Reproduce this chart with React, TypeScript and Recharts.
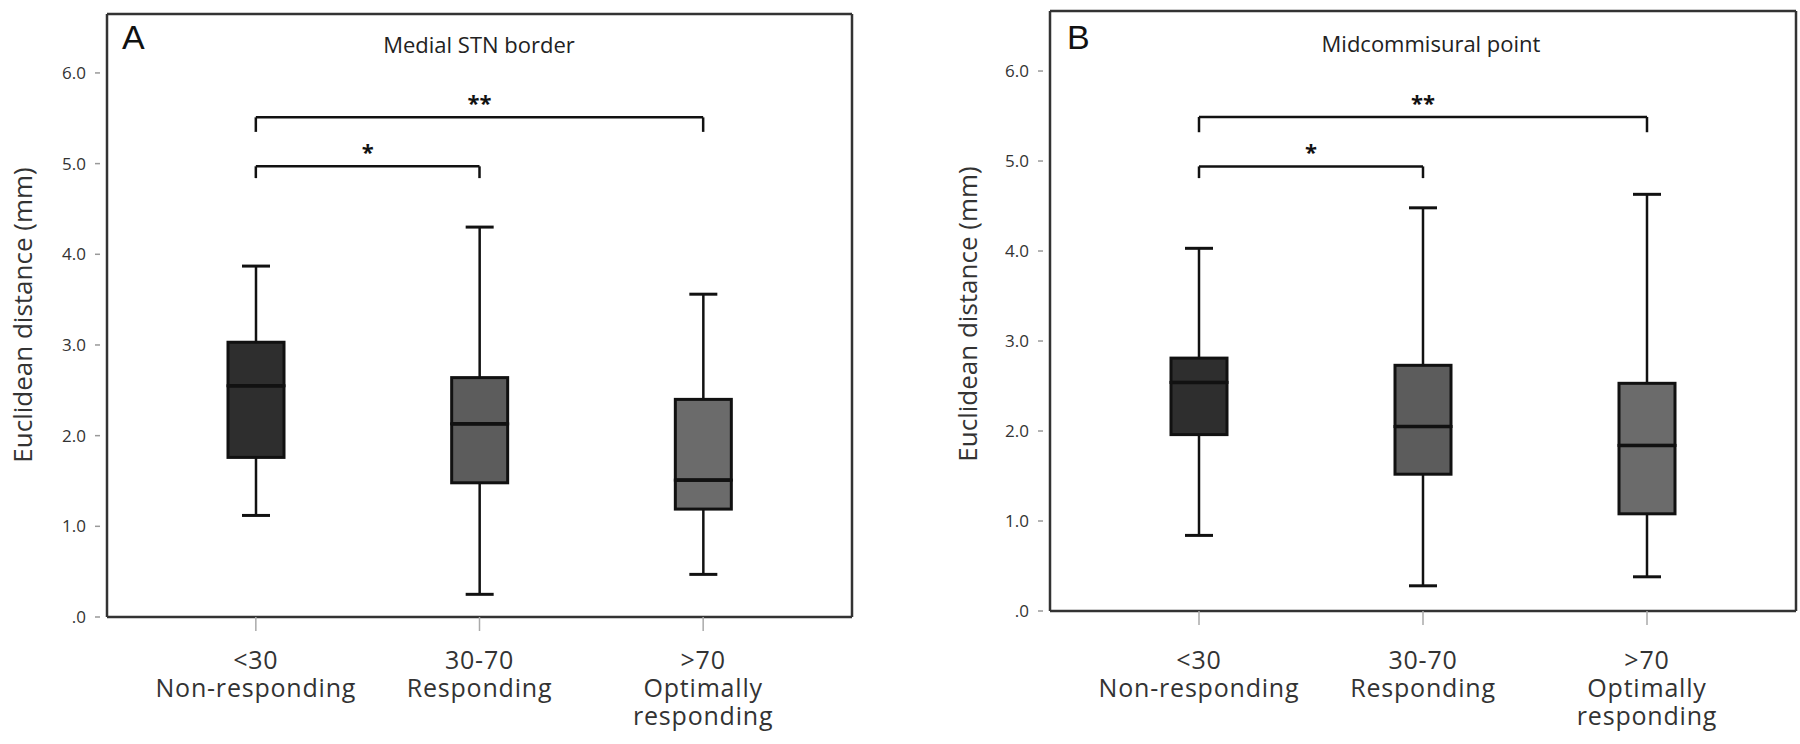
import React from 'react';
import { ComposedChart, Bar, XAxis, YAxis, ReferenceLine } from 'recharts';

// ---------- data ----------
const categories = ['<30', '30-70', '>70'];
const categoryLines = [
  ['<30', 'Non-responding'],
  ['30-70', 'Responding'],
  ['>70', 'Optimally', 'responding'],
];
const yTicks = [0, 1, 2, 3, 4, 5, 6];

// Panel A: Medial STN border
const medialMin = [1.12, 0.25, 0.47];
const medialQ1 = [1.76, 1.48, 1.19];
const medialMedian = [2.55, 2.13, 1.51];
const medialQ3 = [3.03, 2.64, 2.40];
const medialMax = [3.87, 4.30, 3.56];

// Panel B: Midcommisural point
const midMin = [0.84, 0.28, 0.38];
const midQ1 = [1.96, 1.52, 1.08];
const midMedian = [2.54, 2.05, 1.84];
const midQ3 = [2.81, 2.73, 2.53];
const midMax = [4.03, 4.48, 4.63];

const boxFills = ['#2e2e2e', '#5c5c5c', '#6b6b6b'];

type Bracket = { from: string; to: string; level: number; tip: number; mark: string };
const medialBrackets: Bracket[] = [
  { from: '<30', to: '>70', level: 5.51, tip: 5.35, mark: '**' },
  { from: '<30', to: '30-70', level: 4.97, tip: 4.84, mark: '*' },
];
const midBrackets: Bracket[] = [
  { from: '<30', to: '>70', level: 5.49, tip: 5.32, mark: '**' },
  { from: '<30', to: '30-70', level: 4.94, tip: 4.81, mark: '*' },
];

function buildRows(min: number[], q1: number[], med: number[], q3: number[], max: number[]) {
  return categories.map((c, i) => ({
    category: c,
    base: min[i],
    lowWhisker: q1[i] - min[i],
    lowBox: med[i] - q1[i],
    highBox: q3[i] - med[i],
    highWhisker: max[i] - q3[i],
  }));
}

const medialRows = buildRows(medialMin, medialQ1, medialMedian, medialQ3, medialMax);
const midRows = buildRows(midMin, midQ1, midMedian, midQ3, midMax);

// ---------- styles ----------
const FONT = '"Open Sans", "DejaVu Sans", sans-serif';
const INK = '#111';
const FRAME = '#333';
const CAP = 28;

const BaseShape = () => <g />;
const LowWhiskerShape = (p: any) => {
  const cx = p.x + p.width / 2;
  const yb = p.y + p.height;
  return (
    <g>
      <line x1={cx} x2={cx} y1={p.y} y2={yb} stroke={INK} strokeWidth={2.5} />
      <line x1={cx - CAP / 2} x2={cx + CAP / 2} y1={yb} y2={yb} stroke={INK} strokeWidth={3} />
    </g>
  );
};
const LowBoxShape = (p: any) => (
  <rect x={p.x} y={p.y} width={p.width} height={p.height} fill={boxFills[p.index]} stroke={INK} strokeWidth={3} />
);
const HighBoxShape = (p: any) => (
  <g>
    <rect x={p.x} y={p.y} width={p.width} height={p.height} fill={boxFills[p.index]} stroke={INK} strokeWidth={3} />
    <line x1={p.x} x2={p.x + p.width} y1={p.y + p.height} y2={p.y + p.height} stroke={INK} strokeWidth={3.5} />
  </g>
);
const HighWhiskerShape = (p: any) => {
  const cx = p.x + p.width / 2;
  return (
    <g>
      <line x1={cx} x2={cx} y1={p.y} y2={p.y + p.height} stroke={INK} strokeWidth={2.5} />
      <line x1={cx - CAP / 2} x2={cx + CAP / 2} y1={p.y} y2={p.y} stroke={INK} strokeWidth={3} />
    </g>
  );
};

const makeCategoryTick = (firstDy: number) => (props: any) => {
  const { x, y, payload } = props;
  const lines = categoryLines[categories.indexOf(payload.value)] || [payload.value];
  return (
    <text x={x} y={y} textAnchor="middle" fill="#333" fontSize={25} letterSpacing={0.8} fontFamily={FONT}>
      {lines.map((l, i) => (
        <tspan key={i} x={x} dy={i === 0 ? firstDy : 28}>
          {l}
        </tspan>
      ))}
    </text>
  );
};

const yFmt = (v: number) => (v === 0 ? '.0' : v.toFixed(1));

type PanelProps = {
  rows: any[];
  brackets: Bracket[];
  width: number;
  top: number;
  right: number;
  yAxisWidth: number;
  xAxisHeight: number;
  domainMax: number;
  labelDy: number;
};

function Panel({ rows, brackets, width, top, right, yAxisWidth, xAxisHeight, domainMax, labelDy }: PanelProps) {
  const frame = { stroke: FRAME, strokeWidth: 2.5 };
  return (
    <ComposedChart
      width={width}
      height={744}
      data={rows}
      margin={{ top: top - 1, right: right - 1, left: 0, bottom: 0 }}
      barSize={56}
    >
      <XAxis
        dataKey="category"
        height={xAxisHeight}
        padding={{ left: 37, right: 37 }}
        axisLine={frame}
        tickLine={{ stroke: '#aaa', strokeWidth: 1.5 }}
        tickSize={14}
        tickMargin={0}
        interval={0}
        tick={makeCategoryTick(labelDy)}
      />
      <XAxis
        xAxisId="top"
        dataKey="category"
        orientation="top"
        height={1}
        padding={{ left: 37, right: 37 }}
        axisLine={frame}
        tick={false}
        tickLine={false}
      />
      <YAxis
        type="number"
        domain={[0, domainMax]}
        ticks={yTicks}
        width={yAxisWidth}
        axisLine={frame}
        tickLine={{ stroke: '#999', strokeWidth: 1.5, strokeDasharray: '5 7' }}
        tickSize={12}
        tickMargin={9}
        tickFormatter={yFmt}
        tick={{ fill: '#333', fontSize: 17, fontFamily: FONT }}
      />
      <YAxis
        yAxisId="right"
        orientation="right"
        type="number"
        domain={[0, domainMax]}
        width={1}
        axisLine={frame}
        tick={false}
        tickLine={false}
      />
      <Bar dataKey="base" stackId="box" shape={BaseShape} isAnimationActive={false} />
      <Bar dataKey="lowWhisker" stackId="box" shape={LowWhiskerShape} isAnimationActive={false} />
      <Bar dataKey="lowBox" stackId="box" shape={LowBoxShape} isAnimationActive={false} />
      <Bar dataKey="highBox" stackId="box" shape={HighBoxShape} isAnimationActive={false} />
      <Bar dataKey="highWhisker" stackId="box" shape={HighWhiskerShape} isAnimationActive={false} />
      {brackets.map((b, i) => (
        <ReferenceLine
          key={'h' + i}
          segment={[
            { x: b.from, y: b.level },
            { x: b.to, y: b.level },
          ]}
          stroke={INK}
          strokeWidth={2.5}
          label={{ value: b.mark, position: 'top', offset: 6, fill: '#111', fontSize: 22, fontWeight: 700, fontFamily: FONT }}
        />
      ))}
      {brackets.map((b, i) => (
        <ReferenceLine
          key={'l' + i}
          segment={[
            { x: b.from, y: b.level },
            { x: b.from, y: b.tip },
          ]}
          stroke={INK}
          strokeWidth={2.5}
        />
      ))}
      {brackets.map((b, i) => (
        <ReferenceLine
          key={'r' + i}
          segment={[
            { x: b.to, y: b.level },
            { x: b.to, y: b.tip },
          ]}
          stroke={INK}
          strokeWidth={2.5}
        />
      ))}
    </ComposedChart>
  );
}

export default function App() {
  return (
    <div style={{ position: 'absolute', left: 0, top: 0, width: 1800, height: 744, background: '#fff', overflow: 'hidden' }}>
      <div style={{ position: 'absolute', left: 0, top: 0 }}>
        <Panel
          rows={medialRows}
          brackets={medialBrackets}
          width={870}
          top={14}
          right={18}
          yAxisWidth={107}
          xAxisHeight={127}
          domainMax={6.65}
          labelDy={38}
        />
      </div>
      <div style={{ position: 'absolute', left: 900, top: 0 }}>
        <Panel
          rows={midRows}
          brackets={midBrackets}
          width={900}
          top={11}
          right={4}
          yAxisWidth={150}
          xAxisHeight={133}
          domainMax={6.667}
          labelDy={44}
        />
      </div>
      <svg width={1800} height={744} style={{ position: 'absolute', left: 0, top: 0, pointerEvents: 'none' }}>
        <text x={122} y={49} fontSize={34} fontFamily='"Liberation Sans", Arial, sans-serif' fill="#111">A</text>
        <text x={1067} y={49} fontSize={34} fontFamily='"Liberation Sans", Arial, sans-serif' fill="#111">B</text>
        <text x={479} y={53} textAnchor="middle" fontSize={22} fontFamily={FONT} fill="#222">Medial STN border</text>
        <text x={1431} y={52} textAnchor="middle" fontSize={22} fontFamily={FONT} fill="#222">Midcommisural point</text>
        <text x={32} y={315} textAnchor="middle" transform="rotate(-90 32 315)" fontSize={26} fontFamily={FONT} fill="#333">
          Euclidean distance (mm)
        </text>
        <text x={977} y={314} textAnchor="middle" transform="rotate(-90 977 314)" fontSize={26} fontFamily={FONT} fill="#333">
          Euclidean distance (mm)
        </text>
      </svg>
    </div>
  );
}
